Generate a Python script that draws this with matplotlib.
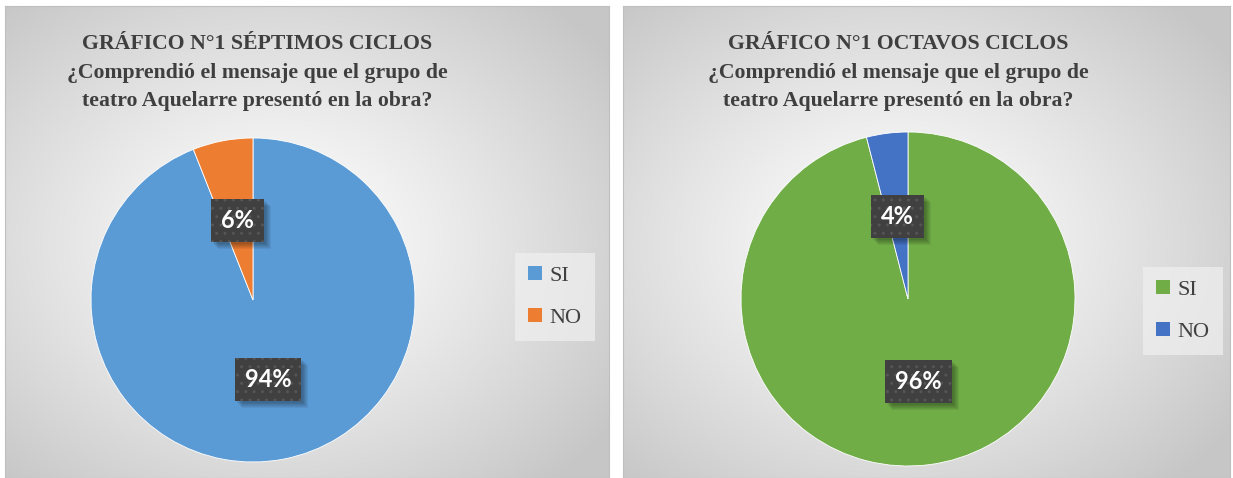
import numpy as np
import matplotlib
matplotlib.use("Agg")
import matplotlib.pyplot as plt
from matplotlib.patches import Patch, Rectangle
from matplotlib.transforms import IdentityTransform

# ---- data ----
categories = ["SI", "NO"]
septimos_values = [94, 6]
octavos_values = [96, 4]
septimos_colors = ["#5B9BD5", "#ED7D31"]
octavos_colors = ["#70AD47", "#4472C4"]
title_septimos = ["GRÁFICO N°1 SÉPTIMOS CICLOS",
                  "¿Comprendió el mensaje que el grupo de",
                  "teatro Aquelarre presentó en la obra?"]
title_octavos = ["GRÁFICO N°1 OCTAVOS CICLOS",
                 "¿Comprendió el mensaje que el grupo de",
                 "teatro Aquelarre presentó en la obra?"]

W, H = 1233, 478
DPI = 100
fig = plt.figure(figsize=(W / DPI, H / DPI), dpi=DPI)
fig.patch.set_facecolor("white")

def px_rect(x0, y0, x1, y1):
    return [x0 / W, 1 - y1 / H, (x1 - x0) / W, (y1 - y0) / H]

def background(x0, y0, x1, y1):
    ax = fig.add_axes(px_rect(x0, y0, x1, y1))
    w, h = x1 - x0, y1 - y0
    yy, xx = np.mgrid[0:h, 0:w]
    cx, cy = w * 0.45, h * 0.5
    d = np.sqrt(((xx - cx) / (w / 2)) ** 2 + ((yy - cy) / (h / 2)) ** 2) / 1.35
    d = np.clip(d, 0, 1)
    c0, c1 = 1.0, 0.78
    v = c0 + (c1 - c0) * d ** 1.2
    img = np.dstack([v, v, v])
    ax.imshow(img, extent=[0, 1, 0, 1], aspect="auto", origin="upper")
    ax.set_xlim(0, 1)
    ax.set_ylim(0, 1)
    ax.set_xticks([])
    ax.set_yticks([])
    for s in ax.spines.values():
        s.set_color("#bfbfbf")
        s.set_linewidth(0.8)
    return ax

LABEL_FONT = dict(fontsize=17, fontweight="bold", family=["Lato", "DejaVu Sans"])
BOXPAD = "square,pad=0.42"
label_items = []

def panel(x0, x1, cx, cy, r, values, colors, title_lines, tcx, leg_center):
    background(x0, 6, x1, 478)
    ax = fig.add_axes(px_rect(cx - r, cy - r, cx + r, cy + r))
    ax.set_facecolor("none")
    wedges, texts, autotexts = ax.pie(
        values, colors=colors, startangle=90, counterclock=False,
        autopct="%1.0f%%", pctdistance=0.5,
        wedgeprops=dict(edgecolor="white", linewidth=0.6),
        textprops=dict(color="white", **LABEL_FONT))
    ax.set_xlim(-1, 1)
    ax.set_ylim(-1, 1)
    ax.set_aspect("equal")
    for t in autotexts:
        t.set_zorder(10)
        t.set_bbox(dict(boxstyle=BOXPAD, facecolor="#404040",
                        edgecolor="#555555", linewidth=0, hatch=".."))
        label_items.append((ax, t))
    ys = [44, 73, 101]
    for line, y in zip(title_lines, ys):
        fig.text(tcx / W, 1 - y / H, line, ha="center", va="center",
                 fontsize=15.7, fontweight="bold", color="#3f3f3f",
                 family=["Liberation Serif", "DejaVu Serif"])
    handles = [Patch(facecolor=c, edgecolor="none") for c in colors]
    leg = fig.legend(handles, categories, loc="center",
                     bbox_to_anchor=(leg_center[0] / W, 1 - leg_center[1] / H),
                     frameon=True, fancybox=False, handlelength=0.6,
                     handleheight=0.6, handletextpad=0.35, labelspacing=1.0,
                     borderpad=0.6,
                     prop=dict(family="Liberation Serif", size=16))
    leg.get_frame().set_facecolor("#f0f0f0")
    leg.get_frame().set_edgecolor("none")
    leg.get_frame().set_alpha(0.7)
    for t in leg.get_texts():
        t.set_color("#404040")

panel(5, 609, 253, 300, 162, septimos_values, septimos_colors,
      title_septimos, 257, (555, 297))
panel(623, 1230, 908, 299, 167, octavos_values, octavos_colors,
      title_octavos, 898, (1183, 311))

# soft drop shadows under the data-label boxes
fig.canvas.draw()
for ax, t in label_items:
    bb = t.get_bbox_patch().get_window_extent()
    for k in (7, 6, 5, 4, 3, 2):
        ax.add_patch(Rectangle((bb.x0 + k, bb.y0 - k), bb.width, bb.height,
                               transform=IdentityTransform(), facecolor="black",
                               alpha=0.06, edgecolor="none", zorder=9,
                               clip_on=False))

fig.savefig("out.png", dpi=DPI)
